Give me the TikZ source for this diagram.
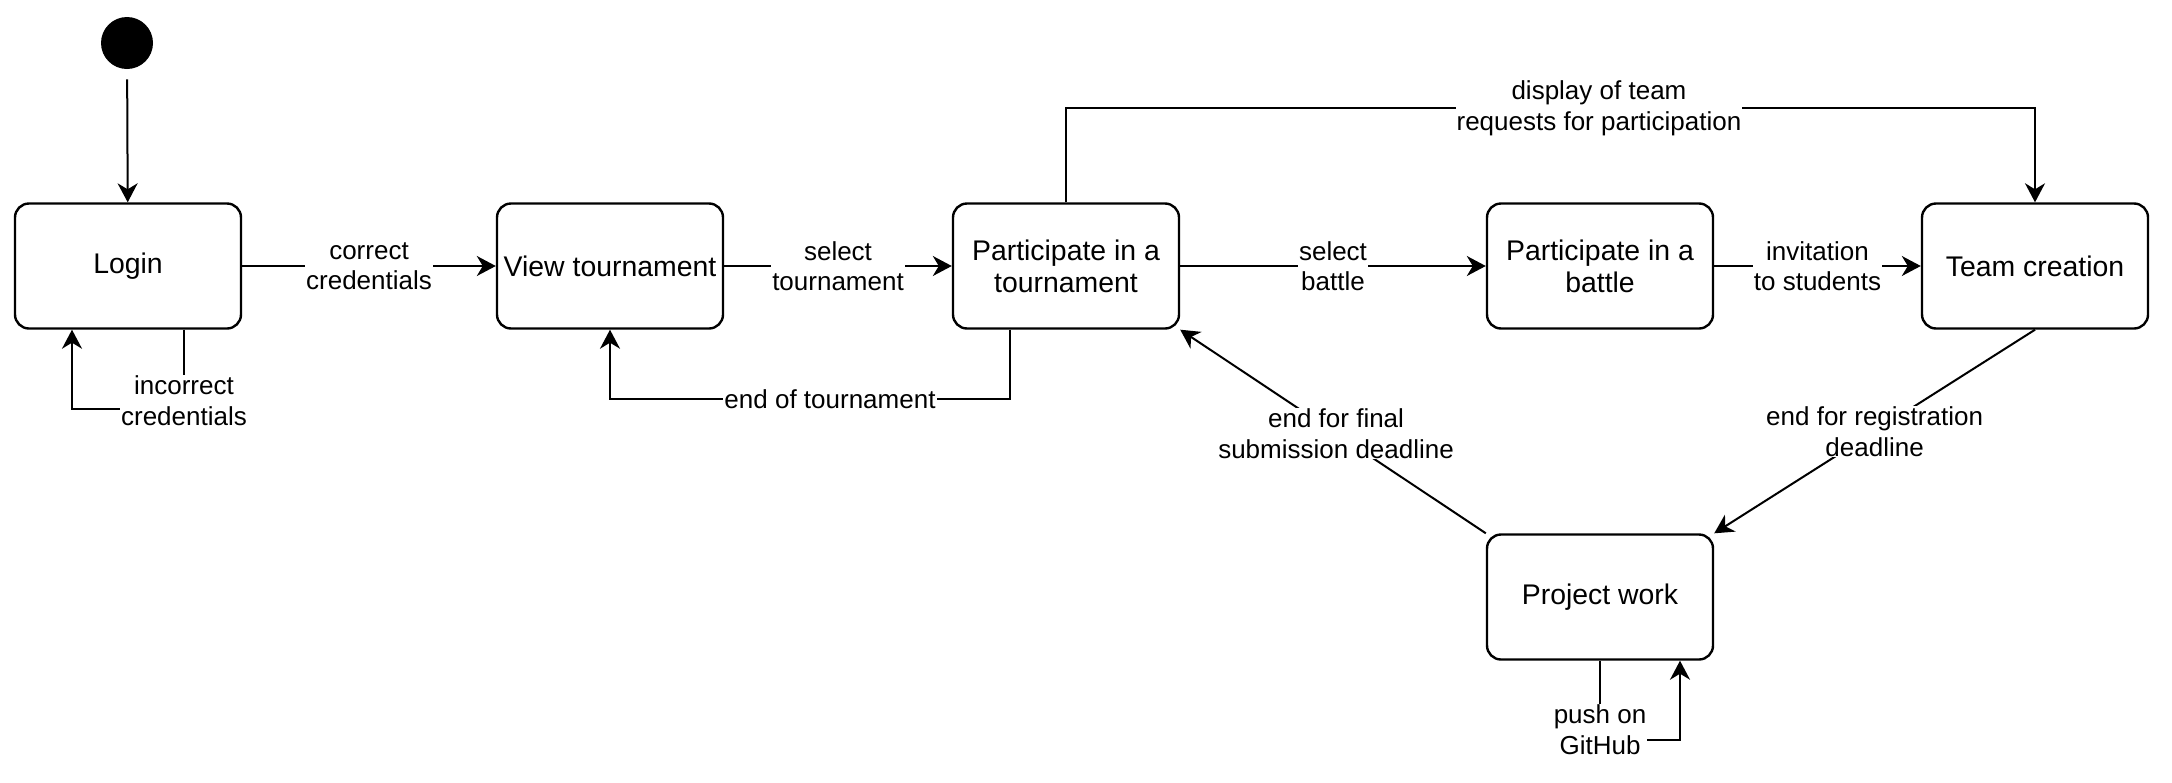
\documentclass[tikz,border=0pt]{standalone}
\usepackage{fontspec}
\setmainfont{Liberation Sans}
\usetikzlibrary{arrows.meta,calc}
\begin{document}
\begin{tikzpicture}[x=0.5pt,y=-0.5pt,
 state/.style={draw, line width=1.2pt, rounded corners=7pt, minimum width=113pt, minimum height=62.5pt, align=center, font=\fontsize{14.2}{16}\selectfont, inner sep=0pt},
 arr/.style={line width=1pt, -{Stealth[length=9.5pt,width=10pt,inset=3pt]}},
 lbl/.style={fill=white, inner sep=0.5pt, align=center, font=\fontsize{13}{15.2}\selectfont}]
\useasboundingbox (0,0) rectangle (2172,782);
\node[circle, fill=black, minimum size=26pt, inner sep=0pt] (init) at (127,43) {};
\node[state] (login) at (128,266) {Login};
\node[state] (view) at (610,266) {View tournament};
\node[state] (pt) at (1066,266) {Participate in a\\tournament};
\node[state] (pb) at (1600,266) {Participate in a\\battle};
\node[state] (team) at (2035,266) {Team creation};
\node[state] (proj) at (1600,597) {Project work};

\draw[arr, shorten <=5pt] (init) -- (login);
\draw[arr] (login) -- node[lbl]{correct\\credentials} (view);
\draw[arr] (view) -- node[lbl]{select\\tournament} (pt);
\draw[arr] (pt) -- node[lbl]{select\\battle} (pb);
\draw[arr] (pb) -- node[lbl]{invitation\\to students} (team);

\draw[arr] ($(login.south)+(56,0)$) -- ++(0,79) node[lbl, yshift=4pt]{incorrect\\credentials} -| ($(login.south)+(-56,0)$);
\draw[arr] ($(pt.south)+(-56,0)$) -- ++(0,69) coordinate (eot) -- (eot -| view.south) node[lbl,pos=0.45]{end of tournament} -- (view.south);
\draw[arr] (pt.north) -- ++(0,-94) coordinate (dt) -- (dt -| team.north) node[lbl,pos=0.55]{display of team\\requests for participation} -- (team.north);
\draw[arr] (team.south) -- node[lbl]{end for registration\\deadline} (proj.north east);
\draw[arr] (proj.north west) -- node[lbl, pos=0.49]{end for final\\submission deadline} (pt.south east);
\draw[arr] (proj.south) -- ++(0,79) node[lbl,yshift=5pt]{push on\\GitHub} -| ($(proj.south)+(80,0)$);
\end{tikzpicture}
\end{document}
